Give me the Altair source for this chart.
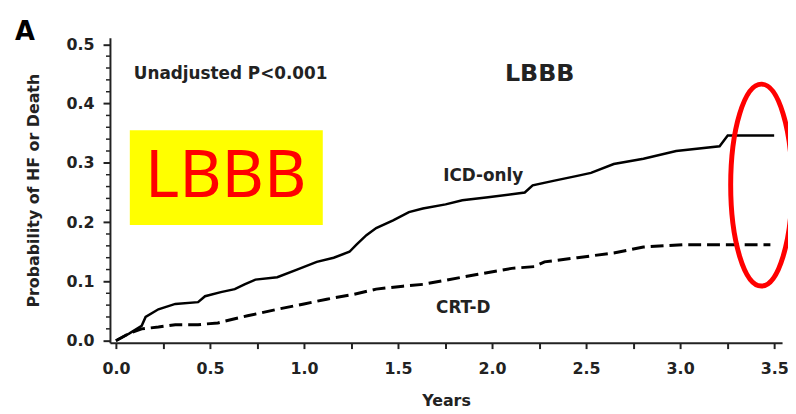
import altair as alt
import pandas as pd

# ---- data ----
icd_years = [0.0, 0.07, 0.137, 0.158, 0.226, 0.316, 0.437, 0.474, 0.558, 0.632,
             0.684, 0.742, 0.858, 0.963, 1.068, 1.158, 1.242, 1.279, 1.332, 1.384,
             1.474, 1.558, 1.632, 1.753, 1.842, 1.979, 2.174, 2.216, 2.332, 2.453,
             2.526, 2.647, 2.805, 2.979, 3.21, 3.253, 3.5]
icd_prob = [0.0, 0.012, 0.025, 0.04, 0.053, 0.062, 0.065, 0.075, 0.082, 0.087,
            0.095, 0.103, 0.107, 0.12, 0.133, 0.14, 0.15, 0.162, 0.178, 0.19,
            0.203, 0.217, 0.223, 0.23, 0.237, 0.242, 0.25, 0.262, 0.27, 0.278,
            0.283, 0.298, 0.307, 0.32, 0.328, 0.346, 0.346]

crt_years = [0.0, 0.068, 0.137, 0.226, 0.316, 0.437, 0.542, 0.632, 0.7, 0.858,
             1.0, 1.121, 1.263, 1.384, 1.526, 1.632, 1.753, 1.926, 2.105, 2.226,
             2.279, 2.453, 2.647, 2.805, 3.016, 3.48]
crt_prob = [0.0, 0.012, 0.02, 0.023, 0.027, 0.027, 0.03, 0.037, 0.042, 0.053,
            0.062, 0.07, 0.078, 0.087, 0.092, 0.095, 0.102, 0.112, 0.122, 0.125,
            0.133, 0.14, 0.148, 0.158, 0.162, 0.162]

x_major = [0.0, 0.5, 1.0, 1.5, 2.0, 2.5, 3.0, 3.5]
x_ticks = [i * 0.125 for i in range(29)]
y_major = [0.0, 0.1, 0.2, 0.3, 0.4, 0.5]
y_minor = [round(i * 0.02, 2) for i in range(26) if i % 5 != 0]

# annotations (data coordinates)
ann_left_text = ["Unadjusted P<0.001"]
ann_left_x = [0.095]
ann_left_y = [0.45]

ann_center_text = ["LBBB", "ICD-only", "CRT-D"]
ann_center_x = [2.253, 1.953, 1.847]
ann_center_y = [0.45, 0.278, 0.055]
ann_center_size = [24, 17, 17]

panel_label = ["A"]
panel_x = [-0.484]
panel_y = [0.52]

box_x = [0.074]
box_x2 = [1.1]
box_y = [0.195]
box_y2 = [0.355]
box_text = ["LBBB"]
box_tx = [0.584]
box_ty = [0.275]

ell_x = [3.432]
ell_y = [0.2625]

# ---- scales ----
X_DOM = [-0.0316, 3.542]
Y_DOM = [-0.0033, 0.511]
xs = alt.Scale(domain=X_DOM, nice=False, zero=False)
ys = alt.Scale(domain=Y_DOM, nice=False, zero=False)

FONT = "DejaVu Sans"
TXT = "#222222"

icd_df = pd.DataFrame({"Years": icd_years, "p": icd_prob})
crt_df = pd.DataFrame({"Years": crt_years, "p": crt_prob})

x_axis = alt.Axis(
    values=x_ticks,
    labelExpr="abs(datum.value*2 - round(datum.value*2)) < 0.001 ? format(datum.value, '.1f') : ''",
    title="Years", tickSize=6, tickWidth=2, labelPadding=12, titlePadding=17,
    grid=False, labelFlush=False, labelOverlap=False,
)
y_axis = alt.Axis(
    values=y_major, format=".1f", title="Probability of HF or Death",
    tickSize=7, tickWidth=2, labelPadding=9, titlePadding=25, grid=False,
)

icd = alt.Chart(icd_df).mark_line(color="black", strokeWidth=2.5).encode(
    x=alt.X("Years:Q", scale=xs, axis=x_axis),
    y=alt.Y("p:Q", scale=ys, axis=y_axis),
)
crt = alt.Chart(crt_df).mark_line(color="black", strokeWidth=3, strokeDash=[13, 6]).encode(
    x=alt.X("Years:Q", scale=xs),
    y=alt.Y("p:Q", scale=ys),
)

yminor = alt.Chart(pd.DataFrame({"v": y_minor})).mark_rule(color="#222", strokeWidth=1.5).encode(
    y=alt.Y("v:Q", scale=ys),
    x=alt.value(-4), x2=alt.value(0),
)

box = alt.Chart(pd.DataFrame({"x": box_x, "x2": box_x2, "y": box_y, "y2": box_y2})).mark_rect(
    color="#ffff00"
).encode(
    x=alt.X("x:Q", scale=xs), x2="x2:Q",
    y=alt.Y("y:Q", scale=ys), y2="y2:Q",
)
box_lbl = alt.Chart(pd.DataFrame({"t": box_text, "x": box_tx, "y": box_ty})).mark_text(
    font="Noto Sans", fontSize=66, color="#ff0000", align="center", baseline="middle"
).encode(
    x=alt.X("x:Q", scale=xs), y=alt.Y("y:Q", scale=ys), text="t:N",
)

ann_l = alt.Chart(pd.DataFrame({"t": ann_left_text, "x": ann_left_x, "y": ann_left_y})).mark_text(
    font=FONT, fontWeight="bold", fontSize=17, color=TXT, align="left", baseline="middle"
).encode(
    x=alt.X("x:Q", scale=xs), y=alt.Y("y:Q", scale=ys), text="t:N",
)
ann_c = alt.Chart(pd.DataFrame({"t": ann_center_text, "x": ann_center_x, "y": ann_center_y,
                                "s": ann_center_size})).mark_text(
    font=FONT, fontWeight="bold", color=TXT, align="center", baseline="middle"
).encode(
    x=alt.X("x:Q", scale=xs), y=alt.Y("y:Q", scale=ys), text="t:N",
    size=alt.Size("s:Q", scale=None, legend=None),
)
panel = alt.Chart(pd.DataFrame({"t": panel_label, "x": panel_x, "y": panel_y})).mark_text(
    font=FONT, fontWeight="bold", fontSize=26, color="black", align="center", baseline="middle"
).encode(
    x=alt.X("x:Q", scale=xs), y=alt.Y("y:Q", scale=ys), text="t:N",
)

ELLIPSE = "M 0 -1 A 0.304 1 0 1 1 0 1 A 0.304 1 0 1 1 0 -1 Z"
ell = alt.Chart(pd.DataFrame({"x": ell_x, "y": ell_y})).mark_point(
    shape=ELLIPSE, size=41616, filled=False, stroke="#ff0000", strokeWidth=5, opacity=1
).encode(
    x=alt.X("x:Q", scale=xs), y=alt.Y("y:Q", scale=ys),
)

chart = alt.layer(box, box_lbl, yminor, crt, icd, ann_l, ann_c, panel, ell).properties(
    width=679, height=308,
    autosize=alt.AutoSizeParams(type="none"),
    padding={"left": 103, "top": 28, "right": 6, "bottom": 70},
    background="white",
).configure_view(stroke=None).configure_axis(
    domainColor="#222", domainWidth=2, tickColor="#222",
    labelFont=FONT, labelFontWeight="bold", labelFontSize=16, labelColor=TXT,
    titleFont=FONT, titleFontWeight="bold", titleFontSize=16, titleColor=TXT,
)

chart.save("out.html", embed_options={"renderer": "svg", "actions": False})
